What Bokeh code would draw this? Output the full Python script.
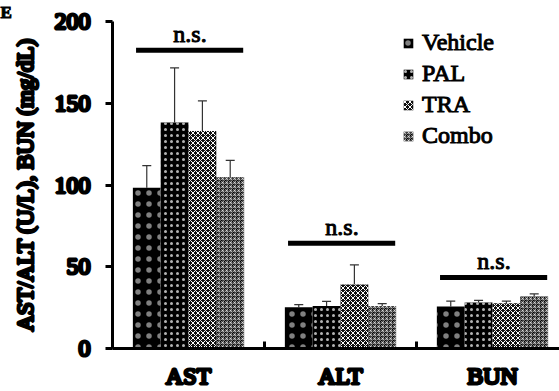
import numpy as np
from bokeh.plotting import figure
from bokeh.models import (Range1d, FixedTicker, ColumnDataSource, Whisker, TeeHead,
                          Legend, LegendItem, Title)
from bokeh.core.properties import value
from bokeh.embed import file_html
from bokeh.resources import INLINE

# ---------------- data ----------------
categories = ["AST", "ALT", "BUN"]
groups = ["Vehicle", "PAL", "TRA", "Combo"]
vehicle_mean = [98.3, 25.3, 25.7]
pal_mean = [138.2, 26.0, 28.2]
tra_mean = [133.1, 39.1, 27.6]
combo_mean = [104.7, 26.0, 31.8]
vehicle_err = [13.6, 1.5, 3.3]
pal_err = [33.4, 2.8, 1.2]
tra_err = [18.3, 12.0, 1.4]
combo_err = [10.4, 1.4, 1.6]
sig_y = [182.4, 64.4, 43.4]
sig_text = ["n.s.", "n.s.", "n.s."]
y_ticks = [0, 50, 100, 150, 200]

means = [vehicle_mean, pal_mean, tra_mean, combo_mean]
errs = [vehicle_err, pal_err, tra_err, combo_err]

FONT = "Liberation Serif"
BAR_W = 0.183


def embolden(obj, prop):
    # thicken regular serif glyphs with a thin outline (bold face not available)
    if prop in obj.properties():
        setattr(obj, prop, "black")


styles = [
    dict(fill_color="black", hatch_pattern="dot", hatch_color="white", hatch_scale=11,
         hatch_weight=0, hatch_alpha=0.5),
    dict(fill_color="black", hatch_pattern="dot", hatch_color="white", hatch_scale=6,
         hatch_weight=0, hatch_alpha=0.7),
    dict(fill_color="#111111", hatch_pattern="diagonal_cross", hatch_color="white", hatch_scale=5,
         hatch_weight=1),
    dict(fill_color="black", hatch_pattern="criss_cross", hatch_color="white", hatch_scale=4,
         hatch_weight=0.5),
]

p = figure(width=559, height=391, output_backend="svg", toolbar_location=None,
           x_range=Range1d(0, 2.941), y_range=Range1d(0, 200),
           min_border_left=112, min_border_right=0, min_border_top=21, min_border_bottom=41)
p.outline_line_color = None
p.grid.visible = False
p.background_fill_color = "white"

centers = np.arange(len(categories)) + 0.5
items = []
for i, g in enumerate(groups):
    xs = centers + (i - 1.5) * BAR_W
    src = ColumnDataSource(dict(x=xs, top=means[i],
                                upper=np.array(means[i]) + np.array(errs[i]),
                                lower=means[i]))
    r = p.vbar(x="x", top="top", bottom=0, width=BAR_W, source=src, line_color=None, **styles[i])
    w = Whisker(base="x", upper="upper", lower="lower", source=src,
                line_color="#333333", line_width=1.2,
                upper_head=TeeHead(size=9, line_color="#333333", line_width=1.2),
                lower_head=None)
    p.add_layout(w)
    items.append(LegendItem(label=g, renderers=[r]))

sig_src = ColumnDataSource(dict(x0=centers - 0.345, x1=centers + 0.36, y=sig_y,
                                tx=centers + 0.01, ty=np.array(sig_y) + 10, t=sig_text))
p.segment(x0="x0", x1="x1", y0="y", y1="y", source=sig_src, line_color="black", line_width=5)
tr = p.text(x="tx", y="ty", text="t", source=sig_src, text_align="center", text_baseline="alphabetic",
            text_font=value(FONT), text_font_size="24px", text_color="black")
embolden(tr.glyph, "text_outline_color")

legend = Legend(items=items, location=(290, 199), orientation="vertical",
                glyph_width=12, glyph_height=12, label_standoff=8, spacing=4,
                padding=0, margin=0, border_line_color=None, background_fill_alpha=0,
                label_text_font=FONT, label_text_font_size="24px",
                label_text_color="black")
embolden(legend, "label_text_outline_color")
p.add_layout(legend)

xa = p.xaxis[0]
xa.ticker = FixedTicker(ticks=list(centers), minor_ticks=[0, 1, 2])
xa.major_label_overrides = {float(c): n for c, n in zip(centers, categories)}
xa.major_tick_in = 0
xa.major_tick_out = 0
xa.minor_tick_in = 7
xa.minor_tick_out = 0
xa.minor_tick_line_width = 3
xa.axis_line_width = 3
xa.major_label_standoff = 14
xa.major_label_text_font = FONT
xa.major_label_text_font_size = "24px"
xa.major_label_text_color = "black"
embolden(xa, "major_label_text_outline_color")

ya = p.yaxis[0]
ya.ticker = FixedTicker(ticks=y_ticks)
ya.major_tick_in = 0
ya.major_tick_out = 7
ya.minor_tick_line_color = None
ya.major_tick_line_width = 3
ya.axis_line_width = 3
ya.major_label_standoff = 15
ya.major_label_text_font = FONT
ya.major_label_text_font_size = "24px"
ya.major_label_text_color = "black"
embolden(ya, "major_label_text_outline_color")
ya.axis_label = "AST/ALT (U/L), BUN (mg/dL)"
ya.axis_label_standoff = 14
ya.axis_label_text_font = FONT
ya.axis_label_text_font_style = "normal"
ya.axis_label_text_font_size = "23px"
ya.axis_label_text_color = "black"
embolden(ya, "axis_label_text_outline_color")

t = Title(text="E", align="left", offset=-112, standoff=0, text_font=FONT,
          text_font_size="17px", text_color="black", vertical_align="bottom")
embolden(t, "text_outline_color")
p.add_layout(t, "above")

open("out.html", "w").write(file_html(p, INLINE))
